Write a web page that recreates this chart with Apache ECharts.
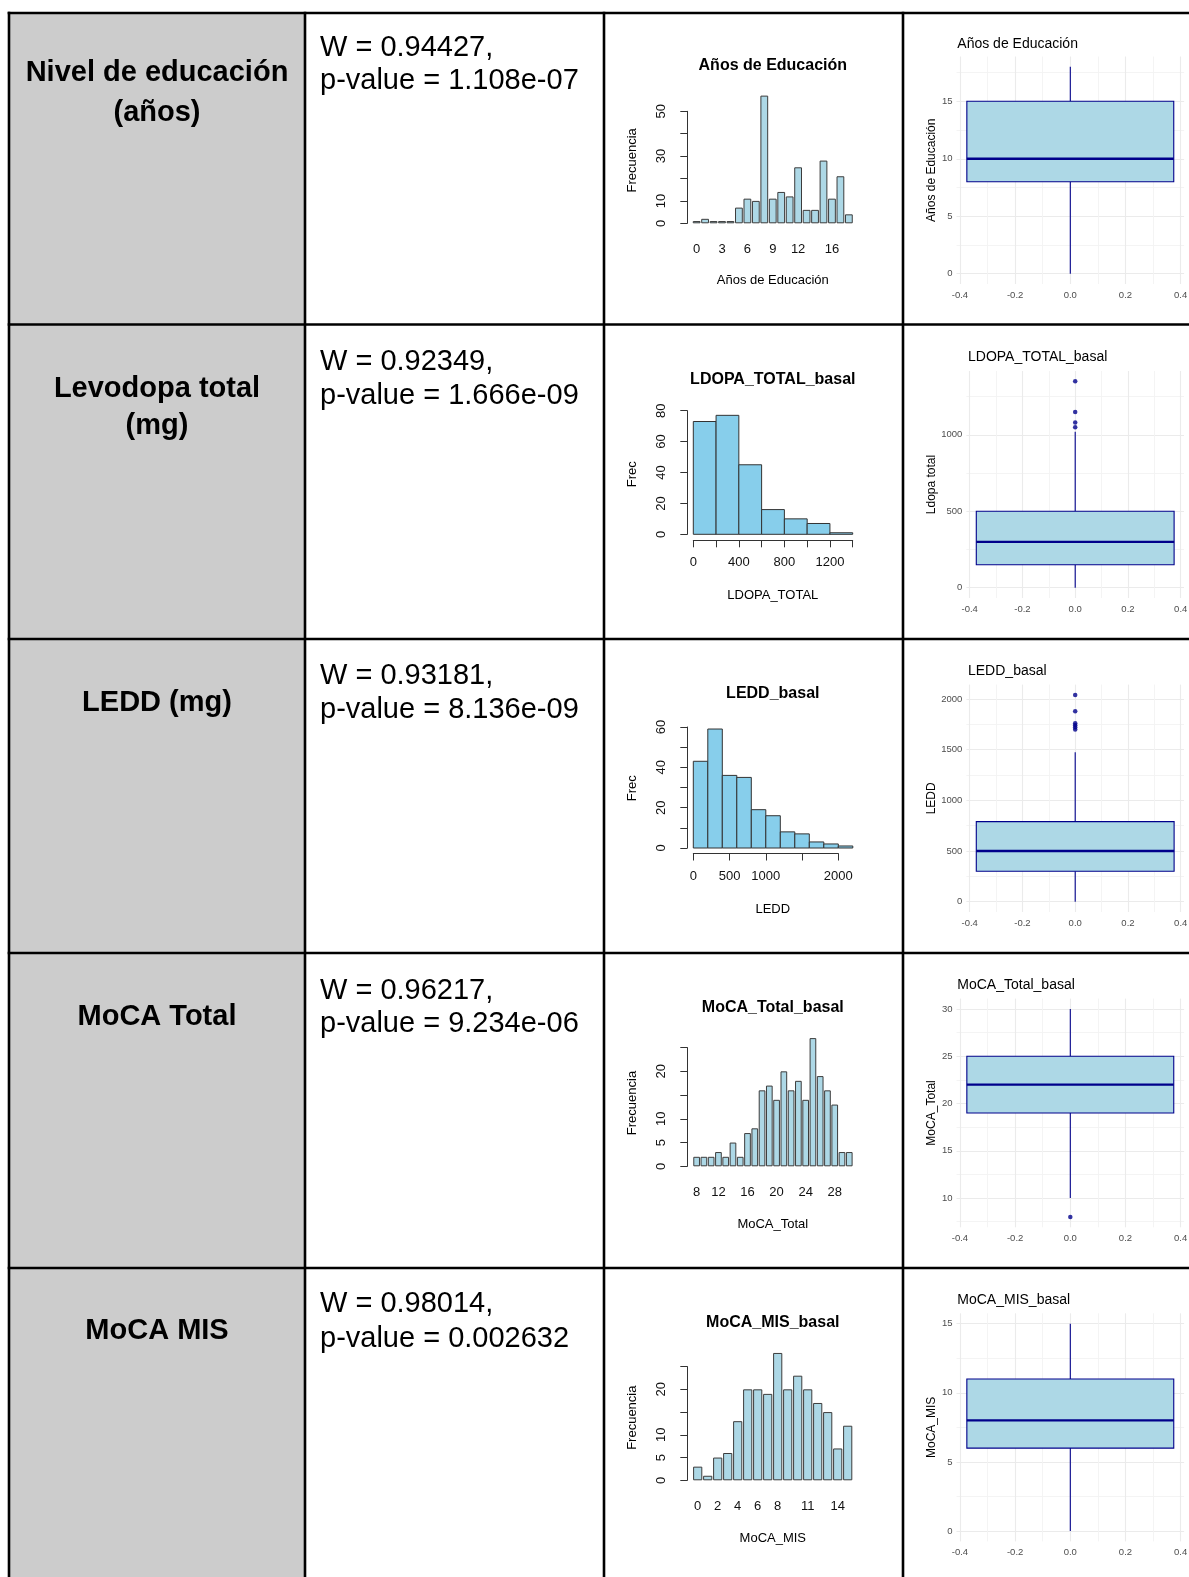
<!DOCTYPE html>
<html lang="es">
<head>
<meta charset="utf-8">
<title>Normalidad de las variables basales</title>
<script src="https://cdn.jsdelivr.net/npm/echarts@6/dist/echarts.min.js"></script>
<style>
  html, body { margin: 0; padding: 0; background: #fff; }
  #chart { width: 1189px; height: 1577px; }
</style>
</head>
<body>
<div id="chart"></div>
<script>
// ---------- Table text ----------
const rowLabels = [['Nivel de educación', '(años)'], ['Levodopa total', '(mg)'], ['LEDD (mg)'], ['MoCA Total'], ['MoCA MIS']];
const shapiroW = ['0.94427', '0.92349', '0.93181', '0.96217', '0.98014'];
const shapiroP = ['1.108e-07', '1.666e-09', '8.136e-09', '9.234e-06', '0.002632'];

// ---------- Histograms ----------
// Years of education (bar per observed value)
const eduYears = [0, 1, 2, 3, 4, 5, 6, 7, 8, 9, 10, 11, 12, 13, 14, 15, 16, 17, 18];
const eduFreq = [1, 2, 1, 1, 1, 7, 11, 10, 57, 11, 14, 12, 25, 6, 6, 28, 11, 21, 4];
const eduTickLabels = [0, 3, 6, 9, 12, 16];
const eduFreqTicks = [0, 10, 20, 30, 40, 50];
const eduFreqLabels = [0, 10, 30, 50];

// Total levodopa (200 mg bins)
const ldopaBreaks = [0, 200, 400, 600, 800, 1000, 1200, 1400];
const ldopaFreq = [73, 77, 45, 16, 10, 7, 1];
const ldopaXTicks = [0, 200, 400, 600, 800, 1000, 1200, 1400];
const ldopaXLabels = [0, 400, 800, 1200];
const ldopaYTicks = [0, 20, 40, 60, 80];

// LEDD (200 mg bins)
const leddBreaks = [0, 200, 400, 600, 800, 1000, 1200, 1400, 1600, 1800, 2000, 2200];
const leddFreq = [43, 59, 36, 35, 19, 16, 8, 7, 3, 2, 1];
const leddXTicks = [0, 500, 1000, 1500, 2000];
const leddXLabels = [0, 500, 1000, 2000];
const leddYTicks = [0, 10, 20, 30, 40, 50, 60];
const leddYLabels = [0, 20, 40, 60];

// MoCA total score (bar per observed value)
const mocaTotalScores = [8, 10, 11, 12, 13, 14, 15, 16, 17, 18, 19, 20, 21, 22, 23, 24, 25, 26, 27, 28, 29, 30];
const mocaTotalFreq = [2, 2, 2, 3, 2, 5, 2, 7, 8, 16, 17, 14, 20, 16, 18, 14, 27, 19, 16, 13, 3, 3];
const mocaTotalTickLabels = [8, 12, 16, 20, 24, 28];

// MoCA MIS (bar per observed value)
const mocaMisScores = [0, 1, 2, 3, 4, 5, 6, 7, 8, 9, 10, 11, 12, 13, 14, 15];
const mocaMisFreq = [3, 1, 5, 6, 13, 20, 20, 19, 28, 20, 23, 20, 17, 15, 7, 12];
const mocaMisTickLabels = [0, 2, 4, 6, 8, 11, 14];

const mocaFreqTicks = [0, 5, 10, 15, 20, 25];
const mocaFreqLabels = [0, 5, 10, 20];

// ---------- Box plots: [lower whisker, Q1, median, Q3, upper whisker] ----------
const eduBox = [0, 8, 10, 15, 18];
const eduOutliers = [];
const ldopaBox = [0, 150, 300, 500, 1020];
const ldopaOutliers = [1050, 1080, 1150, 1350];
const leddBox = [0, 300, 500, 790, 1475];
const leddOutliers = [1700, 1720, 1740, 1760, 1880, 2040];
const mocaTotalBox = [10, 19, 22, 25, 30];
const mocaTotalOutliers = [8];
const mocaMisBox = [0, 6, 8, 11, 15];
const mocaMisOutliers = [];

// Box plot tick values
const boxXTicks = [-0.4, -0.2, 0, 0.2, 0.4];
const boxXMinor = [-0.3, -0.1, 0.1, 0.3];
const eduBoxTicks = [0, 5, 10, 15];
const eduBoxMinor = [2.5, 7.5, 12.5, 17.5];
const ldopaBoxTicks = [0, 500, 1000];
const ldopaBoxMinor = [250, 750, 1250];
const leddBoxTicks = [0, 500, 1000, 1500, 2000];
const leddBoxMinor = [250, 750, 1250, 1750];
const mocaTotalBoxTicks = [10, 15, 20, 25, 30];
const mocaTotalBoxMinor = [7.5, 12.5, 17.5, 22.5, 27.5];
const mocaMisBoxTicks = [0, 5, 10, 15];
const mocaMisBoxMinor = [2.5, 7.5, 12.5];

// ---------- Styling ----------
const FONT = '"Liberation Sans", Arial, Helvetica, sans-serif';
const R_LINE = '#333333';
const R_TEXT = '#111111';
const BOX_LINE = '#00008B';
const GG_GRID = '#EBEBEB';
const GG_GRID_MINOR = '#F3F3F3';
const BOX_HALF = 0.375;
const plainNumber = v => String(Number(v));

const histDefs = [
  { kind: 'bar', cats: eduYears, freq: eduFreq, catLabels: eduTickLabels, yMax: 50, yTicks: eduFreqTicks, yLabels: eduFreqLabels,
    fill: '#ADD8E6', title: 'Años de Educación', xName: 'Años de Educación', yName: 'Frecuencia' },
  { kind: 'hist', breaks: ldopaBreaks, freq: ldopaFreq, xMax: 1400, xTicks: ldopaXTicks, xLabels: ldopaXLabels, yMax: 80, yTicks: ldopaYTicks, yLabels: ldopaYTicks,
    fill: '#87CEEB', title: 'LDOPA_TOTAL_basal', xName: 'LDOPA_TOTAL', yName: 'Frec' },
  { kind: 'hist', breaks: leddBreaks, freq: leddFreq, xMax: 2000, xTicks: leddXTicks, xLabels: leddXLabels, yMax: 60, yTicks: leddYTicks, yLabels: leddYLabels,
    fill: '#87CEEB', title: 'LEDD_basal', xName: 'LEDD', yName: 'Frec' },
  { kind: 'bar', cats: mocaTotalScores, freq: mocaTotalFreq, catLabels: mocaTotalTickLabels, yMax: 25, yTicks: mocaFreqTicks, yLabels: mocaFreqLabels,
    fill: '#ADD8E6', title: 'MoCA_Total_basal', xName: 'MoCA_Total', yName: 'Frecuencia' },
  { kind: 'bar', cats: mocaMisScores, freq: mocaMisFreq, catLabels: mocaMisTickLabels, yMax: 25, yTicks: mocaFreqTicks, yLabels: mocaFreqLabels,
    fill: '#ADD8E6', title: 'MoCA_MIS_basal', xName: 'MoCA_MIS', yName: 'Frecuencia' }
];

// plot regions of the histograms (pixels)
const histRects = [
  { left: 692.4, top: 111.3, width: 160.7, height: 112.0, xOffset: 0 },
  { left: 693.3, top: 410.7, width: 159.4, height: 123.6, xOffset: 6 },
  { left: 693.3, top: 727.0, width: 145.0, height: 121.0, xOffset: 5.5 },
  { left: 693.0, top: 1047.6, width: 159.9, height: 118.7, xOffset: 0 },
  { left: 692.7, top: 1366.6, width: 160.0, height: 113.7, xOffset: 0 }
];
const HIST_Y_AXIS_X = 687.3;
const HIST_CX = 772.8;
const histTitleY = [65.5, 379.5, 693.5, 1007.5, 1322.7];
const histXNameY = [280.5, 595.5, 909.5, 1224, 1538.3];
const histYNameY = [160.3, 474.3, 788.3, 1103, 1417.7];

const boxDefs = [
  { stats: eduBox, out: eduOutliers, ticks: eduBoxTicks, minor: eduBoxMinor, title: 'Años de Educación', yName: 'Años de Educación' },
  { stats: ldopaBox, out: ldopaOutliers, ticks: ldopaBoxTicks, minor: ldopaBoxMinor, title: 'LDOPA_TOTAL_basal', yName: 'Ldopa total' },
  { stats: leddBox, out: leddOutliers, ticks: leddBoxTicks, minor: leddBoxMinor, title: 'LEDD_basal', yName: 'LEDD' },
  { stats: mocaTotalBox, out: mocaTotalOutliers, ticks: mocaTotalBoxTicks, minor: mocaTotalBoxMinor, title: 'MoCA_Total_basal', yName: 'MoCA_Total' },
  { stats: mocaMisBox, out: mocaMisOutliers, ticks: mocaMisBoxTicks, minor: mocaMisBoxMinor, title: 'MoCA_MIS_basal', yName: 'MoCA_MIS' }
];
const boxRects = [
  { left: 956.5, top: 56.5, width: 227.6, height: 227.5, nameGap: 19 },
  { left: 966.4, top: 371.0, width: 217.6, height: 227.0, nameGap: 29 },
  { left: 966.4, top: 684.6, width: 217.6, height: 227.4, nameGap: 29 },
  { left: 956.5, top: 998.6, width: 227.6, height: 228.7, nameGap: 19 },
  { left: 956.5, top: 1313.3, width: 227.6, height: 228.1, nameGap: 19 }
];
const boxTitlePos = [[957.3, 43.7], [968, 357], [968, 671], [957.3, 985.3], [957.3, 1300.3]];

// ---------- Table geometry ----------
const colX = [9, 305, 604, 903];
const rowY = [13, 324.5, 639, 953, 1268];
const labelLineY = [[73.4, 112.6], [389, 426.4], [703], [1016.7], [1330.5]];
const statLineY = [[48.3, 81.4], [362, 396.2], [676, 710], [990.6, 1024], [1304.4, 1338.5]];

const grid = [], xAxis = [], yAxis = [], series = [], graphic = [];

// Table background and borders
graphic.push({ type: 'rect', z: -10, shape: { x: colX[0], y: rowY[0], width: colX[1] - colX[0], height: 1577 - rowY[0] }, style: { fill: '#CCCCCC' } });
rowY.forEach(y => graphic.push({ type: 'line', z: 50, shape: { x1: colX[0] - 1.3, y1: y, x2: 1189, y2: y }, style: { stroke: '#000', lineWidth: 2.6 } }));
colX.forEach(x => graphic.push({ type: 'line', z: 50, shape: { x1: x, y1: rowY[0] - 1.3, x2: x, y2: 1577 }, style: { stroke: '#000', lineWidth: 2.6 } }));

function txt(text, x, y, font, align, opts) {
  return Object.assign({ type: 'text', z: 60, x: x, y: y,
    style: { text: text, font: font, fill: (opts && opts.fill) || '#000', align: align, verticalAlign: 'middle' } }, opts && opts.el);
}

rowLabels.forEach((lines, r) => {
  lines.forEach((line, k) => graphic.push(txt(line, (colX[0] + colX[1]) / 2, labelLineY[r][k], 'bold 29px ' + FONT, 'center')));
  graphic.push(txt('W = ' + shapiroW[r] + ',', 320, statLineY[r][0], '29px ' + FONT, 'left'));
  graphic.push(txt('p-value = ' + shapiroP[r], 320, statLineY[r][1], '29px ' + FONT, 'left'));
});

// ---------- Histograms (base R style) ----------
function histRenderItem(fill) {
  return function (params, api) {
    const p0 = api.coord([api.value(0), 0]);
    const p1 = api.coord([api.value(1), api.value(2)]);
    return { type: 'rect', shape: { x: p0[0], y: p1[1], width: p1[0] - p0[0], height: p0[1] - p1[1] },
      style: { fill: fill, stroke: R_LINE, lineWidth: 1 } };
  };
}

function rValueYAxis(gi, max, ticks, labels, offset) {
  return { gridIndex: gi, type: 'value', min: 0, max: max, position: 'left', offset: offset,
    axisLine: { show: true, onZero: false, lineStyle: { color: R_LINE, width: 1 } },
    axisTick: { show: true, length: 7, customValues: ticks, lineStyle: { color: R_LINE, width: 1 } },
    axisLabel: { show: true, customValues: labels, formatter: plainNumber, rotate: 90, margin: 19, fontSize: 13, fontFamily: FONT, color: R_TEXT },
    splitLine: { show: false } };
}

histDefs.forEach((h, i) => {
  const rect = histRects[i];
  const gi = grid.length;
  grid.push({ left: rect.left, top: rect.top, width: rect.width, height: rect.height, outerBoundsMode: 'none', containLabel: false });
  const xi = xAxis.length, yi = yAxis.length;
  yAxis.push(rValueYAxis(gi, h.yMax, h.yTicks, h.yLabels, rect.left - HIST_Y_AXIS_X));
  if (h.kind === 'bar') {
    xAxis.push({ gridIndex: gi, type: 'category', data: h.cats.map(String), position: 'bottom',
      axisLine: { show: false, onZero: false }, axisTick: { show: false },
      axisLabel: { show: true, interval: (idx, val) => h.catLabels.indexOf(Number(val)) >= 0, hideOverlap: false,
        margin: 20, fontSize: 13, fontFamily: FONT, color: R_TEXT },
      splitLine: { show: false } });
    series.push({ type: 'bar', xAxisIndex: xi, yAxisIndex: yi, data: h.freq, clip: false,
      barCategoryGap: '8%', itemStyle: { color: h.fill, borderColor: '#3c3c3c', borderWidth: 1 } });
  } else {
    xAxis.push({ gridIndex: gi, type: 'value', min: 0, max: h.xMax, position: 'bottom', offset: rect.xOffset,
      axisLine: { show: true, onZero: false, lineStyle: { color: R_LINE, width: 1 } },
      axisTick: { show: true, length: 7, customValues: h.xTicks, lineStyle: { color: R_LINE, width: 1 } },
      axisLabel: { show: true, customValues: h.xLabels, formatter: plainNumber, margin: 16, fontSize: 13, fontFamily: FONT, color: R_TEXT },
      splitLine: { show: false } });
    const binData = h.freq.map((n, k) => [h.breaks[k], h.breaks[k + 1], n]);
    series.push({ type: 'custom', xAxisIndex: xi, yAxisIndex: yi, clip: false, data: binData,
      encode: { x: [0, 1], y: 2 }, renderItem: histRenderItem(h.fill) });
  }
  graphic.push(txt(h.title, HIST_CX, histTitleY[i], 'bold 16px ' + FONT, 'center'));
  graphic.push(txt(h.xName, HIST_CX, histXNameY[i], '13px ' + FONT, 'center'));
  graphic.push(txt(h.yName, 632.3, histYNameY[i], '13px ' + FONT, 'center', { el: { rotation: Math.PI / 2 } }));
});

// ---------- Box plots (ggplot2 minimal style) ----------
function boxRenderItem(params, api) {
  const lo = api.value(1), q1 = api.value(2), med = api.value(3), q3 = api.value(4), hi = api.value(5);
  const tl = api.coord([-BOX_HALF, q3]);
  const br = api.coord([BOX_HALF, q1]);
  const mL = api.coord([-BOX_HALF, med]);
  const mR = api.coord([BOX_HALF, med]);
  const wHi = api.coord([0, hi]), wQ3 = api.coord([0, q3]);
  const wQ1 = api.coord([0, q1]), wLo = api.coord([0, lo]);
  return { type: 'group', children: [
    { type: 'line', shape: { x1: wHi[0], y1: wHi[1], x2: wQ3[0], y2: wQ3[1] }, style: { stroke: BOX_LINE, lineWidth: 1.1 } },
    { type: 'line', shape: { x1: wQ1[0], y1: wQ1[1], x2: wLo[0], y2: wLo[1] }, style: { stroke: BOX_LINE, lineWidth: 1.1 } },
    { type: 'rect', shape: { x: tl[0], y: tl[1], width: br[0] - tl[0], height: br[1] - tl[1] },
      style: { fill: '#ADD8E6', stroke: BOX_LINE, lineWidth: 1.1 } },
    { type: 'line', shape: { x1: mL[0], y1: mL[1], x2: mR[0], y2: mR[1] }, style: { stroke: BOX_LINE, lineWidth: 2.3 } }
  ] };
}

const ggLabel = { fontSize: 9.5, fontFamily: FONT, color: '#4D4D4D' };

boxDefs.forEach((b, i) => {
  const rect = boxRects[i];
  const gi = grid.length;
  grid.push({ left: rect.left, top: rect.top, width: rect.width, height: rect.height, outerBoundsMode: 'none', containLabel: false });

  // panel limits: data range plus 5 % on each side
  const all = b.stats.concat(b.out);
  const lo = Math.min.apply(null, all), hi = Math.max.apply(null, all);
  const pad = (hi - lo) * 0.05;
  const yMin = lo - pad, yMax = hi + pad;
  const xPad = BOX_HALF * 2 * 0.05;
  const xMin = -BOX_HALF - xPad, xMax = BOX_HALF + xPad;

  const xi = xAxis.length, yi = yAxis.length;
  xAxis.push({ gridIndex: gi, type: 'value', min: xMin, max: xMax, position: 'bottom',
    axisLine: { show: false, onZero: false }, axisTick: { show: false, customValues: boxXTicks },
    axisLabel: Object.assign({ show: true, customValues: boxXTicks, margin: 6, formatter: v => Number(v).toFixed(1) }, ggLabel),
    splitLine: { show: true, lineStyle: { color: GG_GRID, width: 1.1 } } });
  xAxis.push({ gridIndex: gi, type: 'value', min: xMin, max: xMax, position: 'bottom',
    axisLine: { show: false, onZero: false }, axisTick: { show: false, customValues: boxXMinor },
    axisLabel: { show: false }, splitLine: { show: true, lineStyle: { color: GG_GRID_MINOR, width: 0.9 } } });
  yAxis.push({ gridIndex: gi, type: 'value', min: yMin, max: yMax, position: 'left',
    name: b.yName, nameLocation: 'middle', nameRotate: 90, nameGap: rect.nameGap, nameMoveOverlap: false,
    nameTextStyle: { fontSize: 12, fontFamily: FONT, color: '#000' },
    axisLine: { show: false, onZero: false }, axisTick: { show: false, customValues: b.ticks },
    axisLabel: Object.assign({ show: true, customValues: b.ticks, margin: 4, formatter: plainNumber }, ggLabel),
    splitLine: { show: true, lineStyle: { color: GG_GRID, width: 1.1 } } });
  yAxis.push({ gridIndex: gi, type: 'value', min: yMin, max: yMax, position: 'left',
    axisLine: { show: false, onZero: false }, axisTick: { show: false, customValues: b.minor },
    axisLabel: { show: false }, splitLine: { show: true, lineStyle: { color: GG_GRID_MINOR, width: 0.9 } } });

  series.push({ type: 'custom', xAxisIndex: xi, yAxisIndex: yi, clip: false, z: 3,
    data: [[0].concat(b.stats)], encode: { x: 0, y: [1, 2, 3, 4, 5] }, renderItem: boxRenderItem });
  if (b.out.length) {
    series.push({ type: 'scatter', xAxisIndex: xi, yAxisIndex: yi, z: 4, symbol: 'circle', symbolSize: 4.5,
      data: b.out.map(v => [0, v]), itemStyle: { color: BOX_LINE } });
  }
  graphic.push(txt(b.title, boxTitlePos[i][0], boxTitlePos[i][1], '14px ' + FONT, 'left'));
});

const chart = echarts.init(document.getElementById('chart'), null, { renderer: 'canvas', width: 1189, height: 1577 });
chart.setOption({
  animation: false,
  backgroundColor: '#ffffff',
  textStyle: { fontFamily: FONT },
  grid: grid,
  xAxis: xAxis,
  yAxis: yAxis,
  series: series,
  graphic: { elements: graphic }
});
</script>
</body>
</html>
